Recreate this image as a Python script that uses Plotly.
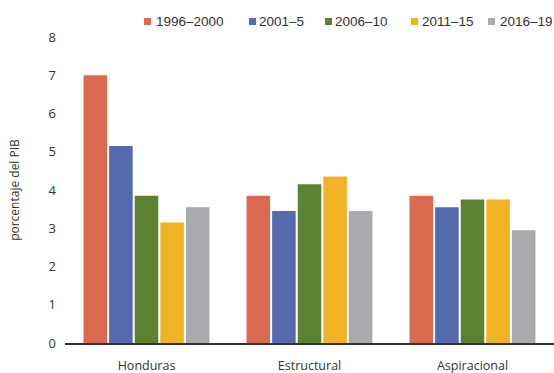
import plotly.graph_objects as go

categories = ["Honduras", "Estructural", "Aspiracional"]
series_names = ["1996–2000", "2001–5", "2006–10", "2011–15", "2016–19"]
v_1996_2000 = [7.0, 3.85, 3.85]
v_2001_5 = [5.15, 3.45, 3.55]
v_2006_10 = [3.85, 4.15, 3.75]
v_2011_15 = [3.15, 4.35, 3.75]
v_2016_19 = [3.55, 3.45, 2.95]
colors = ["#D9694F", "#5569AF", "#5A8230", "#EFB324", "#A9AAAD"]

series_values = [v_1996_2000, v_2001_5, v_2006_10, v_2011_15, v_2016_19]

W, H = 554, 373
ML, MR, MT, MB = 65, 0, 37, 30
PW, PH = W - ML - MR, H - MT - MB

def px_x(p):
    return (p - ML) / PW

def px_y(p):
    return (H - MB - p) / PH

fig = go.Figure()
for name, vals, col in zip(series_names, series_values, colors):
    fig.add_trace(go.Bar(x=categories, y=vals, name=name, showlegend=False,
                         marker=dict(color=col, line=dict(width=0))))

# custom legend (layout positions in pixels)
legend_square_left = [144, 249, 325, 411, 488]
legend_text_left = [155, 258, 334, 421, 499]
shapes = []
annotations = []
for name, col, sx, tx in zip(series_names, colors, legend_square_left, legend_text_left):
    shapes.append(dict(type="rect", xref="paper", yref="paper",
                       x0=px_x(sx), x1=px_x(sx + 7), y0=px_y(25), y1=px_y(18),
                       fillcolor=col, line=dict(width=0)))
    annotations.append(dict(text=name, xref="paper", yref="paper", x=px_x(tx - 0.5), y=px_y(21.5),
                            xanchor="left", yanchor="middle", showarrow=False, borderpad=0,
                            font=dict(family="Liberation Sans, Arial, sans-serif", size=13.5, color="#333333")))

font_family = "Open Sans, sans-serif"
fig.update_layout(
    width=W, height=H,
    margin=dict(l=ML, r=MR, t=MT, b=MB),
    paper_bgcolor="white", plot_bgcolor="white",
    barmode="group", bargap=0.215, bargroupgap=0.08,
    font=dict(family=font_family, size=13, color="#333333"),
    showlegend=False,
    shapes=shapes, annotations=annotations,
    xaxis=dict(showline=True, linecolor="#333333", linewidth=2, ticks="",
               tickfont=dict(size=12.5, color="#333333"), showgrid=False,
               ticklabelstandoff=10),
    yaxis=dict(range=[0, 8], dtick=1, showgrid=False, zeroline=False, showline=False,
               tickfont=dict(size=13, color="#333333"), ticks="", ticklabelstandoff=8,
               title=dict(text="porcentaje del PIB", font=dict(size=12, color="#333333"), standoff=26)),
)
fig.write_html("out.html")
